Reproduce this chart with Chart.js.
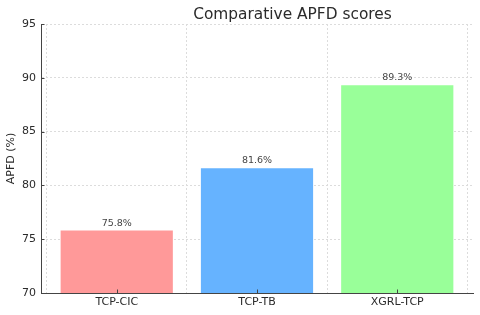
<!DOCTYPE html>
<html>
<head>
<meta charset="utf-8">
<script src="https://cdn.jsdelivr.net/npm/chart.js@4/dist/chart.umd.min.js"></script>
<style>
  html, body { margin: 0; padding: 0; background: #fff; }
  #wrap { width: 480px; height: 315px; }
</style>
</head>
<body>
<div id="wrap"><canvas id="apfd-chart" width="480" height="315"></canvas></div>
<script>
// chart data
const methods = ['TCP-CIC', 'TCP-TB', 'XGRL-TCP'];
const apfdScores = [75.8, 81.6, 89.3];
const barColors = ['#ff9999', '#66b3ff', '#99ff99'];
const yTicks = [70, 75, 80, 85, 90, 95];
const chartTitle = 'Comparative APFD scores';

const textColor = '#2b2b2b';
const gridColor = '#dcdcdc';
const axisColor = '#444444';

// value labels above each bar
const barLabels = {
    id: 'barLabels',
    afterDatasetsDraw(chart) {
        const ctx = chart.ctx;
        const meta = chart.getDatasetMeta(0);
        ctx.save();
        ctx.font = '9.5px "DejaVu Sans"';
        ctx.fillStyle = '#444444';
        ctx.textAlign = 'center';
        ctx.textBaseline = 'alphabetic';
        meta.data.forEach((bar, i) => {
            ctx.fillText(apfdScores[i].toFixed(1) + '%', bar.x, bar.y - 5);
        });
        ctx.restore();
    }
};

// short inward tick marks, like the matplotlib original
const innerTicks = {
    id: 'innerTicks',
    afterDraw(chart) {
        const ctx = chart.ctx;
        const area = chart.chartArea;
        const xs = chart.scales.x, ys = chart.scales.y;
        ctx.save();
        ctx.strokeStyle = axisColor;
        ctx.lineWidth = 1;
        ctx.beginPath();
        yTicks.forEach(v => {
            const y = Math.round(ys.getPixelForValue(v)) + 0.5;
            ctx.moveTo(area.left, y);
            ctx.lineTo(area.left + 3.5, y);
        });
        methods.forEach((m, i) => {
            const x = Math.round(xs.getPixelForValue(i)) + 0.5;
            ctx.moveTo(x, area.bottom);
            ctx.lineTo(x, area.bottom - 3.5);
        });
        ctx.stroke();
        ctx.restore();
    }
};

// title, placed where the reference has it
const titleText = {
    id: 'titleText',
    afterDraw(chart) {
        const ctx = chart.ctx;
        ctx.save();
        ctx.font = '15.4px "DejaVu Sans"';
        ctx.fillStyle = textColor;
        ctx.textAlign = 'center';
        ctx.textBaseline = 'alphabetic';
        ctx.fillText(chartTitle, 292.5, 18.5);
        ctx.restore();
    }
};

const ctx = document.getElementById('apfd-chart').getContext('2d');
new Chart(ctx, {
    type: 'bar',
    data: {
        datasets: [{
            label: 'APFD',
            data: apfdScores.map((v, i) => ({ x: i, y: v })),
            backgroundColor: barColors,
            borderWidth: 0,
            barPercentage: 0.8,
            categoryPercentage: 1.0
        }]
    },
    plugins: [barLabels, innerTicks, titleText],
    options: {
        responsive: false,
        animation: false,
        layout: { padding: { top: 24, right: 7, left: 0, bottom: 0 } },
        plugins: {
            legend: { display: false },
            title: { display: false },
            tooltip: { enabled: false }
        },
        scales: {
            x: {
                type: 'linear',
                min: -0.54,
                max: methods.length - 1 + 0.54,
                bounds: 'data',
                offset: false,
                afterFit: (scale) => { scale.height = 22; },
                afterBuildTicks: (scale) => {
                    scale.ticks = methods.map((m, i) => ({ value: i }));
                },
                ticks: {
                    callback: (v) => methods[v],
                    color: textColor,
                    font: { family: 'DejaVu Sans', size: 11 },
                    padding: 3,
                    maxRotation: 0,
                    autoSkip: false
                },
                grid: {
                    color: gridColor,
                    drawTicks: false
                },
                border: { display: true, color: axisColor, width: 1, dash: [2, 2] }
            },
            y: {
                min: yTicks[0],
                max: yTicks[yTicks.length - 1],
                afterFit: (scale) => { scale.width = 41; },
                afterBuildTicks: (scale) => {
                    scale.ticks = yTicks.map(v => ({ value: v }));
                },
                ticks: {
                    color: textColor,
                    font: { family: 'DejaVu Sans', size: 11 },
                    padding: 5
                },
                grid: {
                    color: gridColor,
                    drawTicks: false
                },
                border: { display: true, color: axisColor, width: 1, dash: [2, 2] },
                title: {
                    display: true,
                    text: 'APFD (%)',
                    color: textColor,
                    font: { family: 'DejaVu Sans', size: 11 },
                    padding: { top: 5, bottom: 0 }
                }
            }
        }
    }
});
</script>
</body>
</html>
